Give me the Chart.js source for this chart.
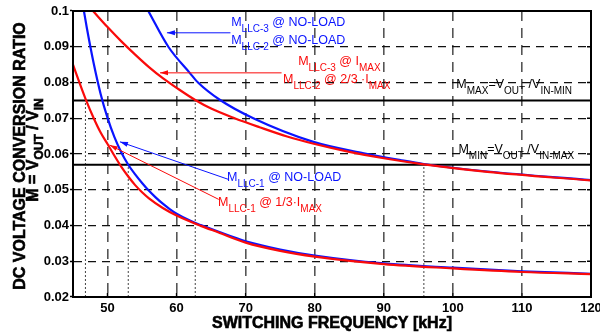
<!DOCTYPE html>
<html>
<head>
<meta charset="utf-8">
<script src="https://cdn.jsdelivr.net/npm/chart.js@4.4.0/dist/chart.umd.min.js"></script>
<style>html,body{margin:0;padding:0;background:#fff;}</style>
</head>
<body>
<canvas id="myChart" width="600" height="333"></canvas>
<script>
const ctx = document.getElementById('myChart').getContext('2d');

/*** Data ***/
// M_LLC-1 @ NO-LOAD (blue)
const llc1NoLoadFreq = [46.6, 47, 48, 49, 50, 51, 52, 53, 54, 55, 56, 57, 58, 59, 60, 62, 63.5, 66, 70, 75, 80, 90, 100, 110, 120];
const llc1NoLoadM    = [0.0998, 0.0953, 0.0853, 0.0768, 0.0701, 0.0647, 0.0604, 0.057, 0.0543, 0.0519, 0.0497, 0.0478, 0.0461, 0.0446, 0.0433, 0.0413, 0.0401, 0.0383, 0.0356, 0.0333, 0.0316, 0.0294, 0.0282, 0.0272, 0.0265];
// M_LLC-1 @ 1/3 I_MAX (red)
const llc1LoadFreq = [45, 46, 46.8, 48, 49, 50, 51, 52, 53, 54, 55, 56, 58, 60, 63.5, 66, 70, 75, 80, 90, 100, 110, 120];
const llc1LoadM    = [0.085, 0.0796, 0.0755, 0.07, 0.066, 0.0628, 0.0595, 0.0564, 0.0537, 0.0513, 0.0493, 0.0476, 0.0449, 0.0428, 0.0399, 0.0381, 0.0352, 0.0329, 0.0313, 0.0292, 0.028, 0.027, 0.0264];
// M_LLC-2 / M_LLC-3 @ NO-LOAD (blue)
const llc23NoLoadFreq = [55.9, 58.8, 61.9, 63.1, 66.3, 71.1, 79.8, 87.1, 92.4, 95.8, 105, 120];
const llc23NoLoadM    = [0.1, 0.09, 0.0827, 0.08, 0.0751, 0.07, 0.0634, 0.0602, 0.0583, 0.0572, 0.0551, 0.0527];
// M_LLC-2 @ 2/3 I_MAX, M_LLC-3 @ I_MAX (red)
const llc23LoadFreq = [47.9, 50, 52, 54, 56, 58, 60, 62.7, 65, 68.4, 72, 76, 80, 85, 90, 95.8, 105, 120];
const llc23LoadM    = [0.1, 0.0955, 0.0915, 0.0878, 0.0843, 0.0812, 0.0785, 0.0751, 0.0727, 0.07, 0.0675, 0.0649, 0.0628, 0.0606, 0.0588, 0.0571, 0.055, 0.0526];

const mMax = 0.075;
const mMin = 0.057;
// dotted markers: frequency where a curve meets M_MAX / M_MIN
const markerFreq  = [46.8, 53.0, 62.7, 95.8];
const markerLevel = [mMax, mMin, mMax, mMin];

const xTicks = [50, 60, 70, 80, 90, 100, 110, 120];
const yTicks = [0.02, 0.03, 0.04, 0.05, 0.06, 0.07, 0.08, 0.09, 0.1];
/*************/

const BLUE = 'rgb(10,20,255)';
const RED = 'rgb(250,10,10)';
const FONT = '"Liberation Sans", Arial, sans-serif';

function pts(fs, ms) {
    return fs.map((f, i) => ({x: f, y: ms[i]}));
}

function curve(label, fs, ms, color) {
    return {
        label, data: pts(fs, ms), borderColor: color, borderWidth: 2.2,
        pointRadius: 0, cubicInterpolationMode: 'monotone', fill: false
    };
}

const datasets = [
    curve('M_LLC-1 @ 1/3 I_MAX', llc1LoadFreq, llc1LoadM, RED),
    curve('M_LLC-2/3 load', llc23LoadFreq, llc23LoadM, RED),
    curve('M_LLC-1 @ NO-LOAD', llc1NoLoadFreq, llc1NoLoadM, BLUE),
    curve('M_LLC-2/3 @ NO-LOAD', llc23NoLoadFreq, llc23NoLoadM, BLUE),
    {label: 'M_MAX', data: [{x: 45, y: mMax}, {x: 120, y: mMax}], borderColor: '#000', borderWidth: 2, pointRadius: 0},
    {label: 'M_MIN', data: [{x: 45, y: mMin}, {x: 120, y: mMin}], borderColor: '#000', borderWidth: 2, pointRadius: 0}
];
markerFreq.forEach(function(f, i) {
    datasets.push({
        label: 'marker' + i, data: [{x: f, y: 0.02}, {x: f, y: markerLevel[i]}],
        borderColor: '#444', borderWidth: 1, borderDash: [2, 2], pointRadius: 0
    });
});

// text pieces, '_' prefix = subscript
const labels = [
    {f: 67.9, m: 0.0958, color: BLUE, parts: ['M', '_LLC-3', ' @ NO-LOAD']},
    {f: 67.9, m: 0.0908, color: BLUE, parts: ['M', '_LLC-2', ' @ NO-LOAD']},
    {f: 77.6, m: 0.0849, color: RED, parts: ['M', '_LLC-3', ' @ I', '_MAX']},
    {f: 75.4, m: 0.0798, color: RED, parts: ['M', '_LLC-2', ' @ 2/3 ·I', '_MAX']},
    {f: 67.3, m: 0.0525, color: BLUE, parts: ['M', '_LLC-1', ' @ NO-LOAD']},
    {f: 66.0, m: 0.0455, color: RED, parts: ['M', '_LLC-1', ' @ 1/3·I', '_MAX']},
    {f: 100.5, m: 0.0784, color: '#000', parts: ['M', '_MAX', '=V', '_OUT', ' /V', '_IN-MIN']},
    {f: 100.8, m: 0.0604, color: '#000', parts: ['M', '_MIN', '=V', '_OUT', ' /V', '_IN-MAX']}
];
const arrows = [
    {from: [67.8, 0.0939], to: [58.6, 0.0939], color: BLUE},
    {from: [75.2, 0.0827], to: [57.6, 0.0827], color: RED},
    {from: [67.5, 0.0529], to: [51.8, 0.0634], color: BLUE},
    {from: [66.1, 0.0473], to: [50.3, 0.0625], color: RED}
];

function drawRich(c, x, y, parts, size, subSize, drop, weight) {
    let cx = x;
    parts.forEach(function(p) {
        const sub = p[0] === '_';
        const t = sub ? p.slice(1) : p;
        c.font = (weight || '') + ' ' + (sub ? subSize : size) + 'px ' + FONT;
        c.fillText(t, cx, sub ? y + drop : y);
        if (weight) c.strokeText(t, cx, sub ? y + drop : y);
        cx += c.measureText(t).width;
    });
}

const decorations = {
    id: 'decorations',
    afterDatasetsDraw(chart) {
        const {ctx, chartArea: {top, right, bottom, left}, scales: {x, y}} = chart;
        ctx.save();
        // frame + inner ticks
        ctx.strokeStyle = '#000';
        ctx.lineWidth = 2;
        ctx.strokeRect(left, top, right - left, bottom - top);
        ctx.lineWidth = 1.5;
        ctx.beginPath();
        xTicks.forEach(function(v) {
            const px = x.getPixelForValue(v);
            ctx.moveTo(px, bottom); ctx.lineTo(px, bottom - 4);
        });
        yTicks.forEach(function(v) {
            const py = y.getPixelForValue(v);
            ctx.moveTo(right, py); ctx.lineTo(right - 4, py);
        });
        ctx.stroke();

        // arrows
        arrows.forEach(function(a) {
            const x1 = x.getPixelForValue(a.from[0]), y1 = y.getPixelForValue(a.from[1]);
            const x2 = x.getPixelForValue(a.to[0]), y2 = y.getPixelForValue(a.to[1]);
            ctx.strokeStyle = a.color;
            ctx.fillStyle = a.color;
            ctx.lineWidth = 1;
            ctx.beginPath();
            ctx.moveTo(x1, y1);
            ctx.lineTo(x2, y2);
            ctx.stroke();
            const ang = Math.atan2(y2 - y1, x2 - x1);
            ctx.beginPath();
            ctx.moveTo(x2, y2);
            ctx.lineTo(x2 - 8 * Math.cos(ang) + 2.5 * Math.sin(ang), y2 - 8 * Math.sin(ang) - 2.5 * Math.cos(ang));
            ctx.lineTo(x2 - 8 * Math.cos(ang) - 2.5 * Math.sin(ang), y2 - 8 * Math.sin(ang) + 2.5 * Math.cos(ang));
            ctx.closePath();
            ctx.fill();
        });

        // labels
        ctx.textBaseline = 'alphabetic';
        ctx.textAlign = 'left';
        labels.forEach(function(l) {
            ctx.fillStyle = l.color;
            drawRich(ctx, x.getPixelForValue(l.f), y.getPixelForValue(l.m), l.parts, 12.5, 10, 6);
        });

        // axis titles
        ctx.fillStyle = '#000';
        ctx.strokeStyle = '#000';
        ctx.lineWidth = 0.6;
        ctx.font = 'bold 16px ' + FONT;
        ctx.textAlign = 'center';
        ctx.fillText('SWITCHING FREQUENCY [kHz]', (left + right) / 2, 328);
        ctx.strokeText('SWITCHING FREQUENCY [kHz]', (left + right) / 2, 328);

        ctx.save();
        ctx.translate(25, (top + bottom) / 2 + 2);
        ctx.rotate(-Math.PI / 2);
        ctx.fillText('DC VOLTAGE CONVERSION RATIO', 0, 0);
        ctx.strokeText('DC VOLTAGE CONVERSION RATIO', 0, 0);
        ctx.restore();

        ctx.save();
        ctx.translate(38, (top + bottom) / 2 - 4);
        ctx.rotate(-Math.PI / 2);
        ctx.textAlign = 'left';
        const line2 = ['M = V', '_OUT', ' / V', '_IN'];
        let w = 0;
        line2.forEach(function(p) {
            const sub = p[0] === '_';
            ctx.font = 'bold ' + (sub ? 12 : 16) + 'px ' + FONT;
            w += ctx.measureText(sub ? p.slice(1) : p).width;
        });
        drawRich(ctx, -w / 2, 0, line2, 16, 12, 5, 'bold');
        ctx.restore();

        ctx.restore();
    }
};

const config = {
    type: 'line',
    data: {datasets},
    options: {
        responsive: false,
        animation: false,
        layout: {padding: {left: 0, right: 9, top: 11, bottom: 0}},
        plugins: {legend: {display: false}, tooltip: {enabled: false}},
        scales: {
            x: {
                type: 'linear', min: 45, max: 120,
                afterFit(scale) { scale.height = 36; scale.paddingLeft = 0; scale.paddingRight = 0; },
                afterBuildTicks(scale) { scale.ticks = xTicks.map(v => ({value: v})); },
                ticks: {
                    padding: 4, color: '#000',
                    font: {family: FONT, size: 13, weight: 'bold'},
                    callback: v => String(v)
                },
                grid: {color: '#555', lineWidth: 1.6, drawTicks: false},
                border: {display: true, color: '#000', width: 2, dash: [10, 7]}
            },
            y: {
                type: 'linear', min: 0.02, max: 0.1,
                afterFit(scale) { scale.width = 73; scale.paddingTop = 0; scale.paddingBottom = 0; },
                afterBuildTicks(scale) { scale.ticks = yTicks.map(v => ({value: v})); },
                ticks: {
                    padding: 1, color: '#000',
                    font: {family: FONT, size: 13, weight: 'bold'},
                    callback: v => String(Number(v.toFixed(2)))
                },
                grid: {color: '#111', lineWidth: 1.2, tickLength: 3, tickColor: '#000', tickWidth: 1.5},
                border: {display: true, color: '#000', width: 2, dash: [8, 6]}
            }
        }
    },
    plugins: [decorations]
};

const myChart = new Chart(ctx, config);
</script>
</body>
</html>
